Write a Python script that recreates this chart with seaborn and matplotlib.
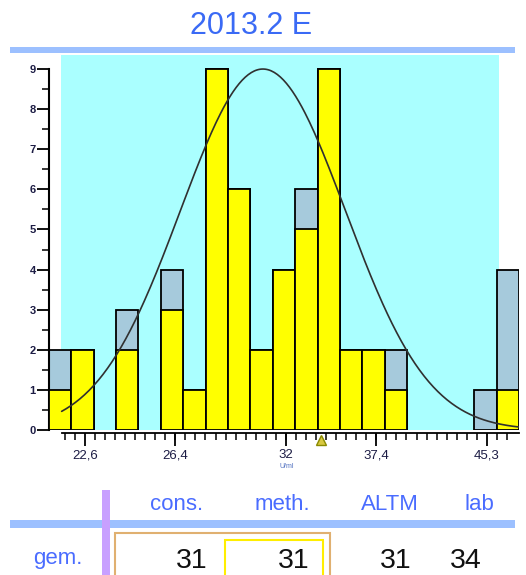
import numpy as np
import pandas as pd
import matplotlib
matplotlib.use('Agg')
import matplotlib.pyplot as plt
import matplotlib.ticker as mticker
from matplotlib.patches import Rectangle
import seaborn as sns

# histogram bins (log spaced)
bin_edges = [21.24, 22.08, 22.95, 23.85, 24.79, 25.77, 26.79, 27.85, 28.95, 30.09, 31.28,
             32.51, 33.80, 35.13, 36.52, 37.96, 39.46, 41.02, 42.64, 44.32, 46.07, 47.89]
count_yellow = [1, 2, 0, 2, 0, 3, 1, 9, 6, 2, 4, 5, 9, 2, 2, 1, 0, 0, 0, 0, 1]
count_total = [2, 2, 0, 3, 0, 4, 1, 9, 6, 2, 4, 6, 9, 2, 2, 2, 0, 0, 0, 1, 4]

xtick_values = [22.6, 26.4, 32, 37.4, 45.3]
xtick_labels = ['22,6', '26,4', '32', '37,4', '45,3']

curve_mean = 30.75
curve_sigma_ln = 0.143
curve_peak = 9
curve_range = (21.71, 47.89)
shade_range = (21.68, 46.25)
lab_marker = 34.0

title = '2013.2 E'
col_headers = ['cons.', 'meth.', 'ALTM', 'lab']
row_label = 'gem.'
row_values = ['31', '31', '31', '34']

sns.set_style('white')
plt.rcParams['font.family'] = ['Liberation Sans', 'DejaVu Sans']

W, H = 526, 575
fig = plt.figure(figsize=(W / 100, H / 100), dpi=100)


def fx(px):
    return px / W


def fy(py):
    return 1 - py / H


ax = fig.add_axes([fx(49), fy(430), fx(519) - fx(49), fy(55) - fy(430)])
ax.set_xscale('log')
ax.axvspan(*shade_range, color='#aaffff', zorder=0, lw=0)

centers = [np.sqrt(a * b) for a, b in zip(bin_edges[:-1], bin_edges[1:])]
df = pd.DataFrame({'value': centers, 'yellow': count_yellow, 'total': count_total})
log_bins = [float(v) for v in np.log10(bin_edges)]

sns.histplot(data=df, x='value', weights='total', bins=log_bins, log_scale=True,
             color='#a6cadc', alpha=1, edgecolor='black', linewidth=1.3, ax=ax, zorder=2)
sns.histplot(data=df, x='value', weights='yellow', bins=log_bins, log_scale=True,
             color='#ffff00', alpha=1, edgecolor='black', linewidth=1.3, ax=ax, zorder=3)
for p in list(ax.patches):
    if isinstance(p, Rectangle) and p.get_height() == 0:
        p.remove()

xs = np.exp(np.linspace(np.log(curve_range[0]), np.log(curve_range[1]), 300))
ys = curve_peak * np.exp(-0.5 * ((np.log(xs) - np.log(curve_mean)) / curve_sigma_ln) ** 2)
sns.lineplot(x=xs, y=ys, color='#303030', lw=1.2, ax=ax, zorder=4)

ax.set_xlim(bin_edges[0], bin_edges[-1])
ax.set_ylim(0, 9.35)
ax.set_xlabel('')
ax.set_ylabel('')

# axes styling
for s in ['top', 'right']:
    ax.spines[s].set_visible(False)
ax.spines['left'].set_bounds(0, 9)
ax.spines['left'].set_linewidth(1.5)
ax.spines['left'].set_color('black')
ax.spines['bottom'].set_bounds(curve_range[0], curve_range[1])
ax.spines['bottom'].set_position(('outward', 2.2))
ax.spines['bottom'].set_linewidth(1.3)
ax.spines['bottom'].set_color('black')

ax.yaxis.set_major_locator(mticker.FixedLocator(range(0, 10)))
ax.yaxis.set_minor_locator(mticker.FixedLocator(np.arange(0.5, 9, 1)))
ax.tick_params(axis='y', which='major', length=8.5, width=1.3, pad=1, left=True,
               labelsize=8, labelcolor='#1c1c44', color='black')
ax.tick_params(axis='y', which='minor', length=5, width=1.1, left=True, color='black')
for t in ax.get_yticklabels():
    t.set_fontweight('bold')

step = np.log(45.3 / 22.6) / 40
minor_x = [22.6 * np.exp(k * step) for k in range(-2, 43)]
ax.xaxis.set_major_locator(mticker.FixedLocator(xtick_values))
ax.xaxis.set_major_formatter(mticker.FixedFormatter(xtick_labels))
ax.xaxis.set_minor_locator(mticker.FixedLocator(minor_x))
ax.xaxis.set_minor_formatter(mticker.NullFormatter())
ax.tick_params(axis='x', which='major', length=9, width=1.3, pad=2.5, bottom=True,
               labelsize=9.5, labelcolor='#1c1c44', color='black')
ax.tick_params(axis='x', which='minor', length=5, width=1.1, bottom=True, color='black')

ax.plot([lab_marker], [-0.25], marker='^', markersize=7, markerfacecolor='#d8c840',
        markeredgecolor='#8a8a00', clip_on=False, zorder=6)
fig.text(fx(287), fy(467), 'U/ml', fontsize=5, color='#5070c0', ha='center', va='center')

# header and table
fig.text(fx(251), fy(26), title, fontsize=22, color='#3a6af5', ha='center', va='center')
fig.patches.append(Rectangle((fx(10), fy(53)), fx(515) - fx(10), fy(47) - fy(53),
                             transform=fig.transFigure, color='#9cc0ff', lw=0))
fig.patches.append(Rectangle((fx(10), fy(528)), fx(515) - fx(10), fy(520) - fy(528),
                             transform=fig.transFigure, color='#9cc0ff', lw=0))
fig.patches.append(Rectangle((fx(102), 0), fx(8), fy(490), transform=fig.transFigure,
                             color='#c8a0ff', lw=0))
fig.patches.append(Rectangle((fx(115), fy(580)), fx(330) - fx(115), fy(533) - fy(580),
                             transform=fig.transFigure, fill=False, edgecolor='#e0b070', lw=1.5))
fig.patches.append(Rectangle((fx(225), fy(580)), fx(323) - fx(225), fy(540) - fy(580),
                             transform=fig.transFigure, fill=False, edgecolor='#ffee00', lw=1.5))

for lab, xc in zip(col_headers, [177, 282, 390, 479]):
    fig.text(fx(xc), fy(510), lab, fontsize=16, color='#4a6cff', ha='center', va='baseline')
fig.text(fx(58), fy(564), row_label, fontsize=16, color='#4a6cff', ha='center', va='baseline')
for v, xr in zip(row_values, [208, 310, 412, 482]):
    fig.text(fx(xr), fy(568), v, fontsize=20.5, color='#111111', ha='right', va='baseline')

fig.savefig('out.png', dpi=100)
